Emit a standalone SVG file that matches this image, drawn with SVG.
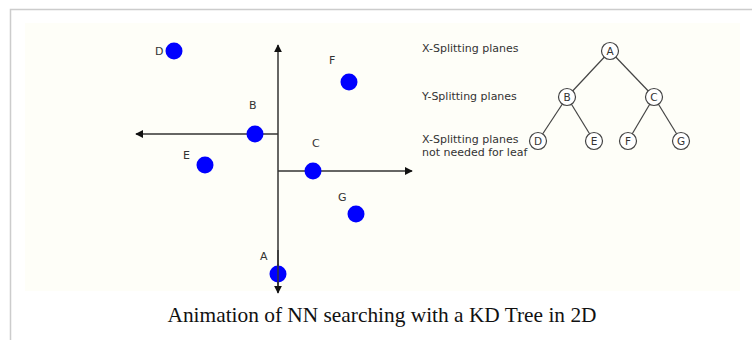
<svg xmlns="http://www.w3.org/2000/svg" width="752" height="340" viewBox="0 0 752 340">
<defs>
<style>
.lbl{font-family:"DejaVu Sans",sans-serif;font-size:11px;fill:#333}
.pt{fill:#0000ff}
.ax{stroke:#333;stroke-width:1.5;fill:none}
.tn circle{fill:#fff;stroke:#444;stroke-width:1.2}
.tn text{font-family:"DejaVu Sans",sans-serif;font-size:10.5px;fill:#333;text-anchor:middle}
.edge{stroke:#444;stroke-width:1.2}
.cap{font-family:"Liberation Serif",serif;font-size:21px;fill:#111;text-anchor:middle}
</style>
<marker id="ah" viewBox="0 0 10 10" refX="9" refY="5" markerWidth="8" markerHeight="8" markerUnits="userSpaceOnUse" orient="auto">
<path d="M0,0 L10,5 L0,10 z" fill="#111"/>
</marker>
</defs>
<rect width="752" height="340" fill="#fff"/>
<path d="M10.5,340 V9.5 H752" fill="none" stroke="#ccc" stroke-width="1.5"/>
<rect x="25" y="23" width="715" height="268" fill="#fefef8"/>
<g id="connectors">
<line class="ax" x1="278" y1="292" x2="278" y2="45" marker-end="url(#ah)"/>
<line class="ax" x1="278" y1="134" x2="136" y2="134" marker-end="url(#ah)"/>
<line class="ax" x1="278" y1="171" x2="412" y2="171" marker-end="url(#ah)"/>
<line class="ax" x1="278" y1="250" x2="278" y2="293" marker-end="url(#ah)"/>
<line class="edge" x1="610" y1="51" x2="567" y2="97"/>
<line class="edge" x1="610" y1="51" x2="654" y2="97"/>
<line class="edge" x1="567" y1="97" x2="538" y2="141"/>
<line class="edge" x1="567" y1="97" x2="594" y2="141"/>
<line class="edge" x1="654" y1="97" x2="628" y2="141"/>
<line class="edge" x1="654" y1="97" x2="681" y2="141"/>
</g>
<g id="pD"><circle class="pt" cx="174" cy="51" r="8.5"/><text class="lbl" x="155" y="55">D</text></g>
<g id="pF"><circle class="pt" cx="349" cy="82" r="8.5"/><text class="lbl" x="329" y="64">F</text></g>
<g id="pB"><circle class="pt" cx="255" cy="134" r="8.5"/><text class="lbl" x="249" y="109">B</text></g>
<g id="pC"><circle class="pt" cx="313" cy="171" r="8.5"/><text class="lbl" x="312" y="147">C</text></g>
<g id="pE"><circle class="pt" cx="205" cy="165" r="8.5"/><text class="lbl" x="183" y="159">E</text></g>
<g id="pG"><circle class="pt" cx="356" cy="214" r="8.5"/><text class="lbl" x="338" y="201">G</text></g>
<g id="pA"><circle class="pt" cx="278" cy="274" r="8.5"/><text class="lbl" x="260" y="260">A</text></g>
<line class="ax" x1="278" y1="264" x2="278" y2="284"/>
<g id="levels">
<text class="lbl" x="422" y="52">X-Splitting planes</text>
<text class="lbl" x="422" y="100">Y-Splitting planes</text>
<text class="lbl" x="422" y="143">X-Splitting planes</text>
<text class="lbl" x="422" y="156">not needed for leaf</text>
</g>
<g id="tA" class="tn"><circle cx="610" cy="51" r="8.5"/><text x="610" y="55">A</text></g>
<g id="tB" class="tn"><circle cx="567" cy="97" r="8.5"/><text x="567" y="101">B</text></g>
<g id="tC" class="tn"><circle cx="654" cy="97" r="8.5"/><text x="654" y="101">C</text></g>
<g id="tD" class="tn"><circle cx="538" cy="141" r="8.5"/><text x="538" y="145">D</text></g>
<g id="tE" class="tn"><circle cx="594" cy="141" r="8.5"/><text x="594" y="145">E</text></g>
<g id="tF" class="tn"><circle cx="628" cy="141" r="8.5"/><text x="628" y="145">F</text></g>
<g id="tG" class="tn"><circle cx="681" cy="141" r="8.5"/><text x="681" y="145">G</text></g>
<text class="cap" x="382" y="322" textLength="429" lengthAdjust="spacingAndGlyphs">Animation of NN searching with a KD Tree in 2D</text>
</svg>
